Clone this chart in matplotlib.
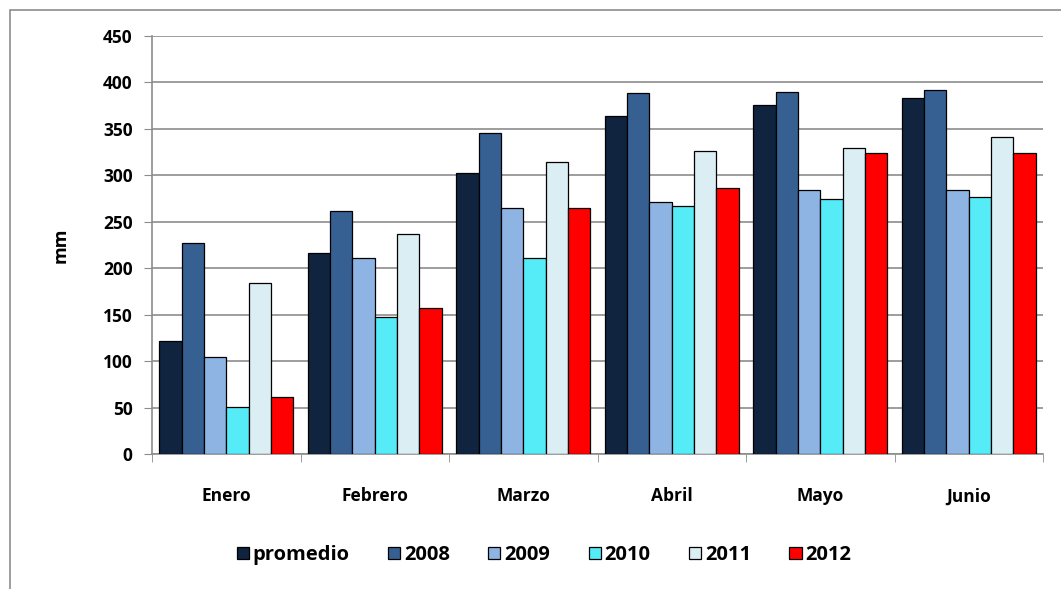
import matplotlib
matplotlib.use('Agg')
import matplotlib.pyplot as plt
from matplotlib.patches import Rectangle
import numpy as np

# Datos (mm)
meses = ['Enero', 'Febrero', 'Marzo', 'Abril', 'Mayo', 'Junio']
series = ['promedio', '2008', '2009', '2010', '2011', '2012']
promedio = [122, 216, 302, 364, 376, 383]
v2008 = [227, 262, 346, 389, 390, 392]
v2009 = [104, 211, 265, 271, 284, 284]
v2010 = [51, 148, 211, 267, 275, 277]
v2011 = [184, 237, 314, 326, 329, 341]
v2012 = [61, 157, 265, 286, 324, 324]
valores = [promedio, v2008, v2009, v2010, v2011, v2012]
colores = ['#10243F', '#376092', '#8EB4E3', '#55EBF7', '#DBEEF4', '#FF0000']

plt.rcParams['font.family'] = ['Open Sans', 'DejaVu Sans']

fig = plt.figure(figsize=(10.61, 5.89), dpi=100)
ax = fig.add_axes([152/1061, 1 - 454/589, (1043 - 152)/1061, (454 - 36)/589])

x = np.arange(len(meses))
ancho = 0.15
for i, (nombre, vals) in enumerate(zip(series, valores)):
    pos = x - 0.45 + ancho * (i + 0.5)
    ax.bar(pos, vals, ancho, color=colores[i], edgecolor='black',
           linewidth=0.9, label=nombre, zorder=3)

ax.set_xlim(-0.5, len(meses) - 0.5)
ax.set_ylim(0, 450)
ax.set_yticks(np.arange(0, 451, 50))
ax.yaxis.grid(True, color='#8C8C8C', linewidth=1.2, zorder=0)
ax.set_xticks(x)
ax.set_xticklabels(meses)
ax.set_xticks(np.arange(-0.5, len(meses)), minor=True)
ax.tick_params(axis='x', which='major', length=0, pad=24, labelsize=12.5)
ax.tick_params(axis='x', which='minor', length=6, color='#8C8C8C', direction='out')
ax.tick_params(axis='y', length=6, color='#8C8C8C', labelsize=12.5, pad=8)
for lab in ax.get_xticklabels() + ax.get_yticklabels():
    lab.set_fontweight('bold')

for lado in ['top', 'right']:
    ax.spines[lado].set_visible(False)
for lado in ['left', 'bottom']:
    ax.spines[lado].set_color('#8C8C8C')
    ax.spines[lado].set_linewidth(1.2)

ax.set_ylabel('mm', fontsize=13, fontweight='bold', labelpad=24)

fig.legend(loc='center', bbox_to_anchor=(544/1061, 1 - 555/589), ncol=6,
           frameon=False, prop={'size': 14.5, 'weight': 'bold'},
           handlelength=0.6, handleheight=0.6, handletextpad=0.2,
           columnspacing=1.9)

# borde exterior del grafico
fig.patches.append(Rectangle((10/1061, -0.01), 1.1, 1 - 10/589 + 0.01,
                             transform=fig.transFigure, fill=False,
                             edgecolor='#8C8C8C', linewidth=1.2))

fig.savefig('out.png', dpi=100)
